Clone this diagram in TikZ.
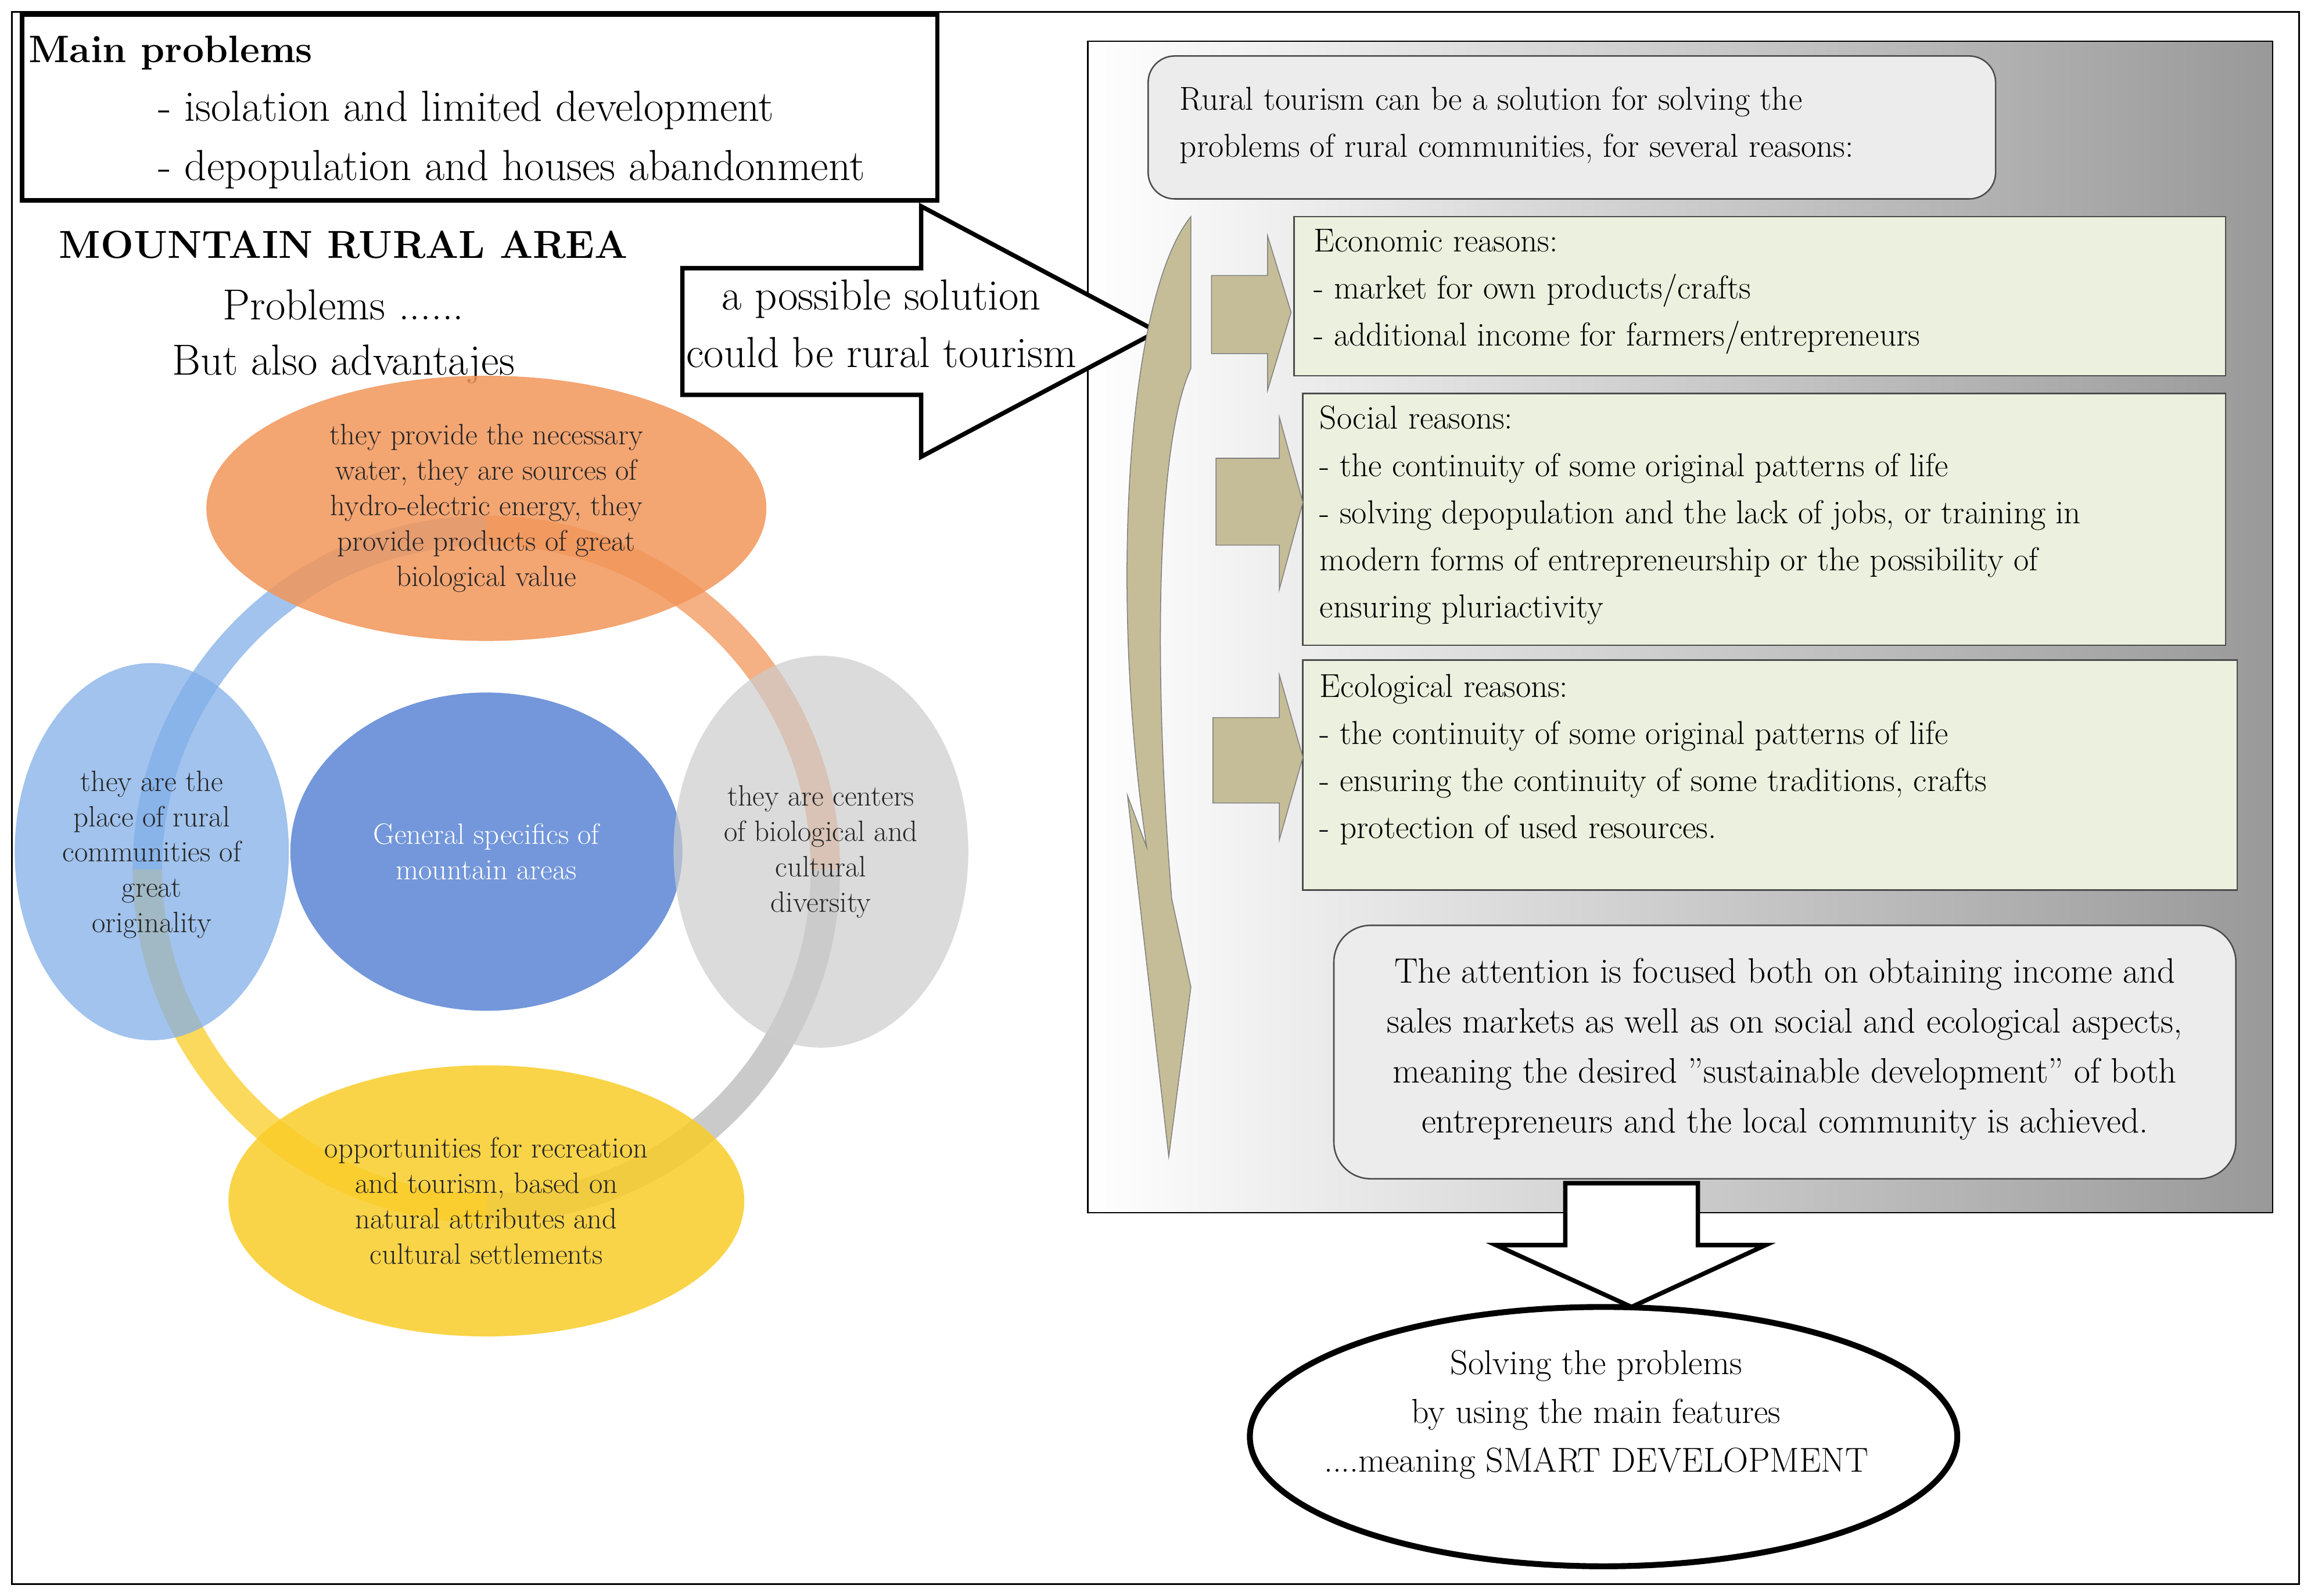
\documentclass[tikz,border=0pt]{standalone}
\usepackage{tikz}
\usetikzlibrary{shapes.geometric}
\definecolor{tan}{RGB}{196,189,151}
\definecolor{lgreen}{RGB}{235,241,222}
\definecolor{orng}{RGB}{242,150,90}
\definecolor{lblue}{RGB}{130,175,232}
\definecolor{mblue}{RGB}{100,140,215}
\definecolor{yel}{RGB}{250,205,40}
\begin{document}
\begin{tikzpicture}[x=1pt,y=-1pt,
  big/.style={font=\fontsize{29.5}{34}\selectfont},
  mid/.style={font=\fontsize{22.5}{32}\selectfont},
  sm/.style={font=\fontsize{20}{24}\selectfont,align=center},
  gbox/.style={draw=black!70,fill=lgreen,line width=1pt},
  tarr/.style={fill=tan,draw=black!50,line width=0.6pt}]
\useasboundingbox (0,0) rectangle (1568,1083);
\fill[white] (0,0) rectangle (1568,1083);
\draw[line width=1.2pt] (8,8) rectangle (1560,1075);
% problems box
\draw[line width=3pt] (15,10) rectangle (636,136);
\node[anchor=west,font=\fontsize{26}{30}\selectfont\bfseries] (mp) at (16,36) {Main problems};
\node[big,anchor=west] (p1) at (104,75) {- isolation and limited development};
\node[big,anchor=west] (p2) at (104,115) {- depopulation and houses abandonment};
\node[font=\fontsize{26.5}{30}\selectfont\bfseries] (mra) at (233,166) {MOUNTAIN RURAL AREA};
\node[big] (pr) at (233,207) {Problems ......};
\node[big] (adv) at (233,247) {But also advantajes};
% right panel
\shade[left color=white,right color=gray!80,draw=black,line width=1pt] (738,28) rectangle (1542,823);
\draw[black,line width=1pt] (738,28) rectangle (1542,823);
% big arrow
\draw[line width=3pt,fill=white] (463,182) -- (625,182) -- (625,140) -- (785,225) -- (625,310) -- (625,268) -- (463,268) -- cycle;
\node[big] (s1) at (598,203) {a possible solution};
\node[big] (s2) at (598,239) {could be rural tourism};
\draw[fill=gray!15,rounded corners=18pt,draw=black!70,line width=1pt] (779,38) rectangle (1354,135);
\node[mid,anchor=west,align=left] (top) at (797,85) {Rural tourism can be a solution for solving the\\problems of rural communities, for several reasons:};
% curved arrow
\fill[tan,draw=black!50,line width=0.6pt] (808,147) .. controls (765,200) and (752,400) .. (778,575) -- (765,540) -- (793,785) -- (808,670) -- (795,610) .. controls (782,450) and (785,300) .. (808,250) -- cycle;
% green boxes
\draw[gbox] (878,147) rectangle (1510,255);
\node[mid,anchor=north west,align=left] (e) at (888,152) {Economic reasons:\\- market for own products/crafts\\- additional income for farmers/entrepreneurs};
\draw[gbox] (884,267) rectangle (1510,438);
\node[mid,anchor=north west,align=left] (so) at (892,272) {Social reasons:\\- the continuity of some original patterns of life\\- solving depopulation and the lack of jobs, or training in\\modern forms of entrepreneurship or the possibility of\\ensuring pluriactivity};
\draw[gbox] (884,448) rectangle (1518,604);
\node[mid,anchor=north west,align=left] (ec) at (892,454) {Ecological reasons:\\- the continuity of some original patterns of life\\- ensuring the continuity of some traditions, crafts\\- protection of used resources.};
% small arrows
\draw[tarr] (822,187) -- (860,187) -- (860,160) -- (876,212) -- (860,265) -- (860,240) -- (822,240) -- cycle;
\draw[tarr] (825,311) -- (868,311) -- (868,283) -- (884,341) -- (868,400) -- (868,370) -- (825,370) -- cycle;
\draw[tarr] (823,487) -- (868,487) -- (868,458) -- (884,514) -- (868,570) -- (868,545) -- (823,545) -- cycle;
% bottom box
\draw[fill=gray!15,rounded corners=25pt,draw=black!70,line width=1pt] (905,628) rectangle (1517,800);
\node[align=center,font=\fontsize{24}{34}\selectfont] (att) at (1211,712) {The attention is focused both on obtaining income and\\sales markets as well as on social and ecological aspects,\\meaning the desired "sustainable development" of both\\entrepreneurs and the local community is achieved.};
% down arrow
\draw[line width=3pt,fill=white] (1062,803) -- (1152,803) -- (1152,845) -- (1198,845) -- (1107,887) -- (1015,845) -- (1062,845) -- cycle;
\node[ellipse,draw,line width=4pt,minimum width=480pt,minimum height=176pt] (sol) at (1088,975) {};
\node[align=center,font=\fontsize{23.5}{33}\selectfont] (solt) at (1083,960) {Solving the problems\\by using the main features\\....meaning SMART DEVELOPMENT};
% ring
\begin{scope}[line width=20pt,opacity=0.75]
\draw[lblue] (330,590) ++(180:230) arc[start angle=180,end angle=270,radius=230];
\draw[orng] (330,590) ++(270:230) arc[start angle=270,end angle=360,radius=230];
\draw[gray!55] (330,590) ++(0:230) arc[start angle=0,end angle=90,radius=230];
\draw[yel] (330,590) ++(90:230) arc[start angle=90,end angle=180,radius=230];
\end{scope}
\node[ellipse,fill=orng,opacity=0.85,minimum width=380pt,minimum height=180pt] (topc) at (330,345) {};
\node[sm,text=black!85] (tt) at (330,345) {they provide the necessary\\water, they are sources of\\hydro-electric energy, they\\provide products of great\\biological value};
\node[ellipse,fill=yel,opacity=0.85,minimum width=350pt,minimum height=184pt] (bot) at (330,815) {};
\node[sm,text=black!85] (bt) at (330,815) {opportunities for recreation\\and tourism, based on\\natural attributes and\\cultural settlements};
\node[ellipse,fill=mblue,opacity=0.9,minimum width=266pt,minimum height=216pt] (cen) at (330,578) {};
\node[sm,text=white] (ct) at (330,578) {General specifics of\\mountain areas};
\node[ellipse,fill=lblue,opacity=0.75,minimum width=186pt,minimum height=256pt] (lft) at (103,578) {};
\node[sm,text=black!85] (lt) at (103,580) {they are the\\place of rural\\communities of\\great\\originality};
\node[ellipse,fill=gray!40,opacity=0.7,minimum width=200pt,minimum height=266pt] (rgt) at (557,578) {};
\node[sm,text=black!85] (rt) at (557,578) {they are centers\\of biological and\\cultural\\diversity};
\end{tikzpicture}
\end{document}
